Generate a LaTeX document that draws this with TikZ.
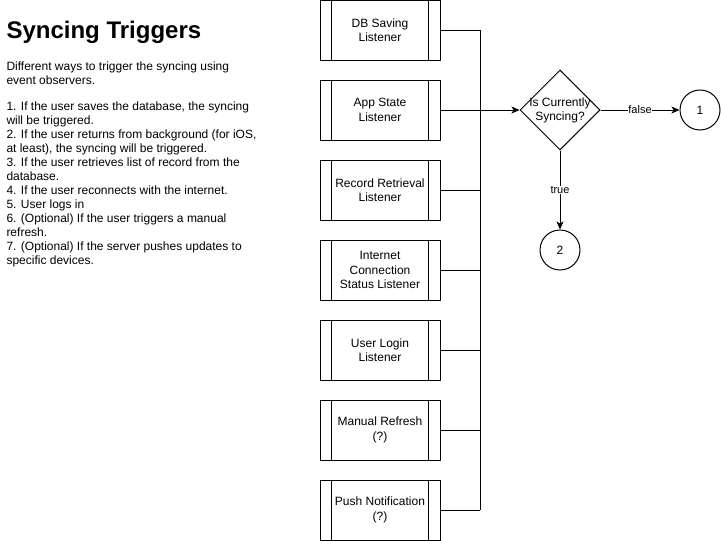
\documentclass[tikz,border=0pt]{standalone}
\usepackage{fontspec}
\setmainfont{Liberation Sans}
\usepackage{tikz}
\usetikzlibrary{calc}
\usetikzlibrary{shapes}
\usetikzlibrary{arrows.meta}

\begin{document}
\begin{tikzpicture}[x=1pt, y=-1pt, line width=1pt,
  listener/.style = {rectangle, draw = black, minimum width = 120pt, minimum height = 60pt, inner sep = 0pt, align = center, font = \fontsize{12}{14.5}\selectfont},
  bubble/.style = {circle, draw = black, minimum size = 40pt, inner sep = 0pt, font = \fontsize{12}{14}\selectfont},
  cond/.style = {fill = white, inner sep = 0.5pt, font = \fontsize{11}{13}\selectfont},
  flow/.style = {-{Stealth[length=8pt, width=7pt, inset=2pt]}}]
\useasboundingbox (0,0) rectangle (721,541);

\draw (6,38) node[name = title, anchor = base west, inner sep = 0pt, font = \bfseries\fontsize{24}{28}\selectfont]{Syncing Triggers};
\draw (6,61.5) node[name = notes, anchor = north west, align = left, inner sep = 0pt, font = \fontsize{12}{14}\selectfont]{Different ways to trigger the syncing using\\
event observers.\\[12pt]
1. If the user saves the database, the syncing\\
will be triggered.\\
2. If the user returns from background (for iOS,\\
at least), the syncing will be triggered.\\
3. If the user retrieves list of record from the\\
database.\\
4. If the user reconnects with the internet.\\
5. User logs in\\
6. (Optional) If the user triggers a manual\\
refresh.\\
7. (Optional) If the server pushes updates to\\
specific devices.};

\coordinate (bustop) at (480,30);
\coordinate (busbot) at (480,510);

\foreach \name/\txt [count=\i] in {dbsave/{DB Saving\\Listener}, appstate/{App State\\Listener}, retrieval/{Record Retrieval\\Listener}, netstatus/{Internet\\Connection\\Status Listener}, login/{User Login\\Listener}, manual/{Manual Refresh\\(?)}, push/{Push Notification\\(?)}}{
  \draw (380,{30+80*(\i-1)}) node[name = \name, listener]{\txt};
  \draw ($(\name.north west)+(12,0)$) -- ($(\name.south west)+(12,0)$);
  \draw ($(\name.north east)+(-12,0)$) -- ($(\name.south east)+(-12,0)$);
}

\draw (bustop) -- (busbot);
\foreach \name in {dbsave, retrieval, netstatus, login, manual, push}
  \draw (\name.east) -- (\name.east -| bustop);

\draw (560,110) node[name = check, diamond, draw = black, minimum width = 80pt, minimum height = 80pt, inner sep = 0pt, label = {[name = checktext, align = center, font = \fontsize{12}{14}\selectfont]center:Is Currently\\Syncing?}]{};
\draw (700,110) node[name = one, bubble]{1};
\draw (560,250) node[name = two, bubble]{2};

\draw[flow] (appstate.east) -- (check.west);
\draw[flow] (check.east) -- node[cond]{false} (one.west);
\draw[flow] (check.south) -- node[cond]{true} (two.north);

\end{tikzpicture}
\end{document}
